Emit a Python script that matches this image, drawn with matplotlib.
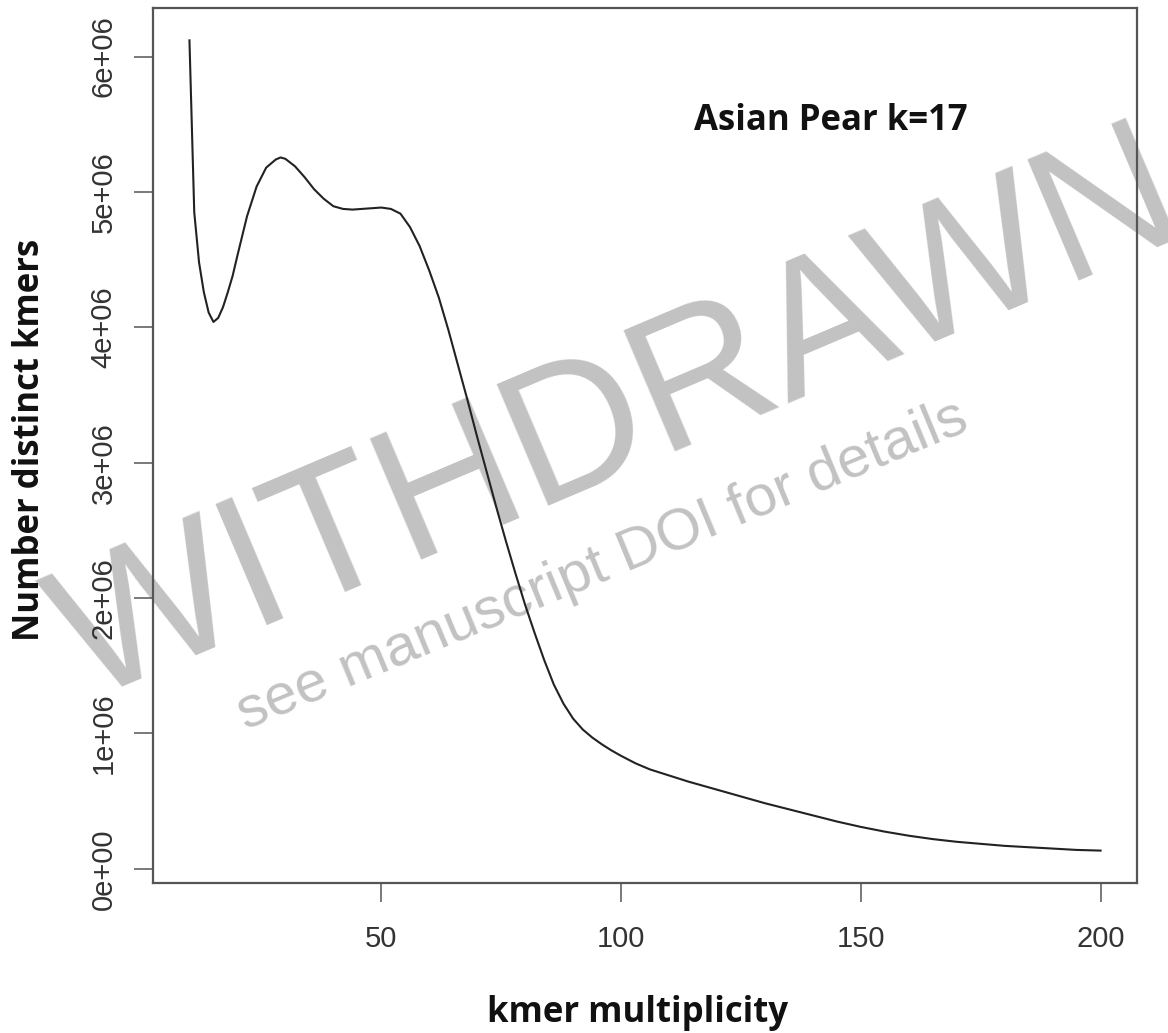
import numpy as np
import matplotlib
matplotlib.use("Agg")
import matplotlib.pyplot as plt

# kmer multiplicity histogram (smoothed), counts in millions
multiplicity = [10, 11, 12, 13, 14, 15, 16, 17, 18, 19, 20, 22, 24, 26, 28, 29, 30,
                32, 34, 36, 38, 40, 42, 44, 46, 48, 50, 52, 54, 56, 58, 60, 62, 64,
                66, 68, 70, 72, 74, 76, 78, 80, 82, 84, 86, 88, 90, 92, 94, 96, 98,
                100, 103, 106, 110, 114, 118, 122, 126, 130, 135, 140, 145, 150,
                155, 160, 165, 170, 175, 180, 185, 190, 195, 200]
distinct_mil = [6.12, 4.85, 4.48, 4.26, 4.11, 4.04, 4.07, 4.15, 4.26, 4.38, 4.53,
                4.82, 5.04, 5.18, 5.24, 5.255, 5.245,
                5.19, 5.11, 5.02, 4.95, 4.895, 4.875, 4.87, 4.875, 4.88, 4.885,
                4.875, 4.84, 4.74, 4.60, 4.42, 4.22, 3.98,
                3.72, 3.46, 3.19, 2.93, 2.67, 2.42, 2.18, 1.95, 1.74, 1.54, 1.36,
                1.22, 1.11, 1.03, 0.97, 0.92, 0.875,
                0.835, 0.78, 0.735, 0.69, 0.645, 0.605, 0.565, 0.525, 0.485, 0.44,
                0.395, 0.35, 0.31,
                0.275, 0.245, 0.22, 0.20, 0.185, 0.17, 0.16, 0.15, 0.14, 0.135]

x_ticks = [50, 100, 150, 200]
y_ticks = [0, 1e6, 2e6, 3e6, 4e6, 5e6, 6e6]
y_ticklabels = ["0e+00", "1e+06", "2e+06", "3e+06", "4e+06", "5e+06", "6e+06"]

x = np.array(multiplicity, dtype=float)
y = np.array(distinct_mil) * 1e6

fig = plt.figure(figsize=(11.68, 10.33), dpi=100)
ax = fig.add_axes([0.131, 0.1452, 0.8425, 0.8471])

ax.plot(x, y, color="#222222", lw=1.5, zorder=3)

# R-style 4% padding
xr = x.max() - x.min()
yr = y.max() - y.min()
ax.set_xlim(x.min() - 0.04 * xr, x.max() + 0.04 * xr)
ax.set_ylim(y.min() - 0.04 * yr, y.max() + 0.04 * yr)

ax.set_xticks(x_ticks)
ax.set_xticklabels([str(t) for t in x_ticks], family="Liberation Sans",
                   fontsize=21, color="#333333")
ax.set_yticks(y_ticks)
ax.set_yticklabels(y_ticklabels, family="Liberation Sans", fontsize=21,
                   color="#333333", rotation=90, va="center")
ax.tick_params(axis="x", length=13.5, width=1.1, color="#555555", pad=17)
ax.tick_params(axis="y", length=13.5, width=1.1, color="#555555", pad=12)
for s in ax.spines.values():
    s.set_color("#555555")
    s.set_linewidth(1.6)

lab_font = dict(family="Open Sans", weight="bold", fontsize=25, color="#111111")
fig.text(0.546, 0.011, "kmer multiplicity", ha="center", va="baseline", **lab_font)
fig.text(0.0255, 0.5745, "Number distinct kmers", ha="center", va="center",
         rotation=90, **lab_font)
ax.text(0.594, 0.874, "Asian Pear k=17", transform=fig.transFigure,
        ha="left", va="baseline", **lab_font)

# withdrawal watermark
ax.text(0.5466, 0.5476, "WITHDRAWN", transform=fig.transFigure, clip_on=False,
        family="Liberation Sans", fontsize=137.5, color="#c2c2c2",
        rotation=23, rotation_mode="anchor", ha="center", va="baseline",
        zorder=1)
ax.text(0.5205, 0.4385, "see manuscript DOI for details", transform=fig.transFigure,
        clip_on=False, family="Liberation Sans", fontsize=42, color="#c2c2c2",
        rotation=22.5, rotation_mode="anchor", ha="center", va="baseline",
        zorder=1)

fig.savefig("out.png", dpi=100)
